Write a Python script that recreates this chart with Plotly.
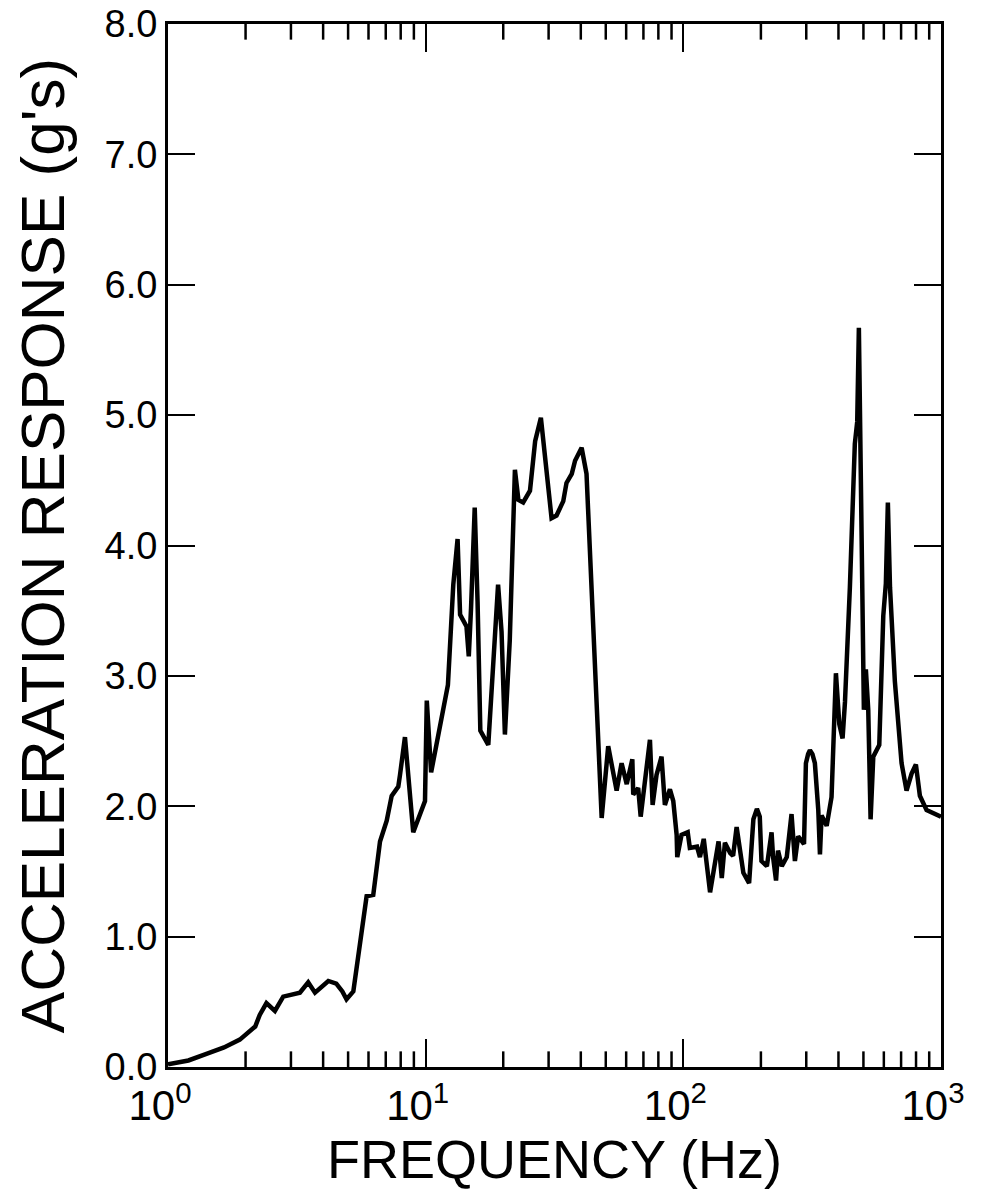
import plotly.graph_objects as go

# Frequency (Hz) and acceleration response (g's)
freq = [1.00, 1.2, 1.41, 1.65, 1.90, 2.05, 2.18, 2.27, 2.41, 2.60, 2.80, 3.25, 3.50, 3.72,
        3.95, 4.19, 4.5, 4.75, 4.93, 5.24, 5.90, 6.26, 6.65, 7.06, 7.38, 7.83, 7.95, 8.31,
        8.95, 9.94, 10.1, 10.5, 12.2, 12.8, 13.3, 13.6, 14.4, 14.7, 15.0, 15.5, 15.9,
        16.3, 17.5, 18.6, 19.1, 19.7, 20.3, 21.2, 22.2, 22.9, 23.9, 25.4, 26.6, 28.0,
        29.5, 30.8, 32.2, 34.2, 35.2, 36.9, 38.0, 40.3, 42.1, 43.4, 46.1, 48.2, 51.1,
        55.1, 57.6, 60.3, 63.4, 63.9, 66.8, 68.3, 74.2, 76.0, 78.7, 82.3, 84.8, 88.7,
        91.4, 94.2, 94.7, 98.4, 104, 106, 113, 116, 120, 127, 137, 141, 145, 152, 156,
        161, 171, 180, 187, 193, 198, 201, 211, 220, 223, 229, 233, 241, 252, 263, 271,
        279, 294, 299, 305, 310, 317, 324, 334, 339, 344, 360, 376, 391, 403, 415, 424,
        443, 463, 473, 480, 487, 496, 502, 511, 522, 533, 546, 576, 597, 611, 622, 634,
        662, 703, 735, 769, 799, 828, 879, 1000]
accel = [0.02, 0.05, 0.10, 0.15, 0.21, 0.26, 0.31, 0.40, 0.49, 0.43, 0.54, 0.57, 0.65, 0.57,
         0.62, 0.66, 0.64, 0.58, 0.52, 0.58, 1.31, 1.32, 1.73, 1.89, 2.08, 2.15, 2.24, 2.53,
         1.80, 2.04, 2.81, 2.26, 2.93, 3.70, 4.05, 3.47, 3.38, 3.15, 3.52, 4.29, 3.57,
         2.58, 2.47, 3.37, 3.70, 3.34, 2.55, 3.27, 4.58, 4.35, 4.33, 4.42, 4.80, 4.98,
         4.57, 4.21, 4.23, 4.34, 4.48, 4.55, 4.65, 4.75, 4.55, 3.98, 2.70, 1.91, 2.46,
         2.12, 2.33, 2.17, 2.36, 2.09, 2.14, 1.92, 2.51, 2.01, 2.24, 2.38, 2.01, 2.13,
         2.04, 1.78, 1.61, 1.78, 1.80, 1.68, 1.69, 1.61, 1.75, 1.34, 1.73, 1.45, 1.72, 1.64, 1.62,
         1.84, 1.49, 1.41, 1.90, 1.98, 1.92, 1.58, 1.54, 1.80, 1.61, 1.43, 1.66, 1.54, 1.61, 1.94, 1.58,
         1.77, 1.71, 2.33, 2.40, 2.43, 2.40, 2.33, 1.97, 1.63, 1.93, 1.85, 2.07, 3.02, 2.63, 2.52, 2.80,
         3.68, 4.78, 4.95, 5.67, 4.78, 3.74, 2.74, 3.05, 2.74, 1.90, 2.38, 2.47, 3.46, 3.71, 4.33, 3.68,
         2.96, 2.33, 2.12, 2.25, 2.32, 2.08, 1.97, 1.92]

x_major = [1, 10, 100, 1000]
x_major_text = ["10<sup>0</sup>", "10<sup>1</sup>", "10<sup>2</sup>", "10<sup>3</sup>"]
x_minor = [float(m * d) for d in (1, 10, 100) for m in range(2, 10)]
y_ticks = [0, 1, 2, 3, 4, 5, 6, 7, 8]
Y_MIN, Y_MAX = 0, 8

FONT = "Liberation Sans, Arial, Helvetica, sans-serif"
MINOR_LEN = 0.12  # minor tick length in y-axis units (about 16 px)

# minor (2..9) ticks on the log frequency axis, bottom and top, pointing inward
tick_x, tick_y = [], []
for v in x_minor:
    tick_x += [v, v, None, v, v, None]
    tick_y += [Y_MIN, Y_MIN + MINOR_LEN, None, Y_MAX, Y_MAX - MINOR_LEN, None]

fig = go.Figure()
fig.add_trace(go.Scatter(x=tick_x, y=tick_y, mode="lines", connectgaps=False,
                         line=dict(color="black", width=2.5), showlegend=False,
                         hoverinfo="skip", cliponaxis=False))
fig.add_trace(go.Scatter(x=freq, y=accel, mode="lines",
                         line=dict(color="black", width=4.5), showlegend=False))

fig.update_layout(
    width=965, height=1188,
    margin=dict(l=160, r=32, t=16, b=129),
    paper_bgcolor="white", plot_bgcolor="white",
    font=dict(family=FONT, color="black"),
    xaxis=dict(
        type="log", range=[0, 3], automargin=False,
        tickmode="array", tickvals=x_major, ticktext=x_major_text,
        ticks="inside", ticklen=28, tickwidth=2, tickcolor="black",
        showline=True, linewidth=3, linecolor="black", mirror="ticks",
        showgrid=False, zeroline=False,
        tickfont=dict(size=42, family=FONT, color="black"),
        ticklabelstandoff=0, ticklabelshift=-8, ticklabeloverflow="allow",
        title=dict(text="FREQUENCY (Hz)", font=dict(size=54, family=FONT, color="black"),
                   standoff=8),
    ),
    yaxis=dict(
        range=[Y_MIN, Y_MAX], automargin=False,
        tickmode="array", tickvals=y_ticks, tickformat=".1f",
        ticks="inside", ticklen=27, tickwidth=2, tickcolor="black",
        showline=True, linewidth=3, linecolor="black", mirror="ticks",
        showgrid=False, zeroline=False,
        tickfont=dict(size=38, family=FONT, color="black"),
        ticklabeloverflow="allow",
        title=dict(text="ACCELERATION RESPONSE (g's)",
                   font=dict(size=62, family=FONT, color="black"), standoff=34),
    ),
)

fig.write_html("out.html")
